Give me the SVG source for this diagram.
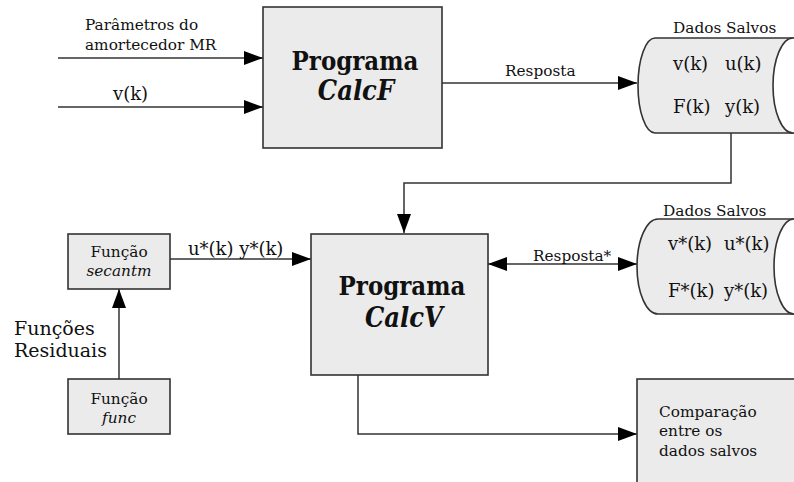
<svg xmlns="http://www.w3.org/2000/svg" width="794" height="482" viewBox="0 0 794 482">
<defs>
<style>
text{font-family:"DejaVu Serif","Liberation Serif",serif;fill:#111}
.box{fill:#ebebeb;stroke:#333;stroke-width:1.6}
.ln{fill:none;stroke:#333;stroke-width:1.5}
.big{font-family:"DejaVu Serif Condensed","DejaVu Serif",serif;font-size:25.5px;font-weight:bold;text-anchor:middle}
.bigi{font-family:"DejaVu Serif Condensed","DejaVu Serif",serif;font-size:27px;font-weight:bold;font-style:italic;text-anchor:middle}
.t14{font-size:15.3px}
.t16{font-size:18px}
.t18{font-size:19px}
.mid{text-anchor:middle}
.it{font-style:italic}
</style>
<marker id="ah" markerUnits="userSpaceOnUse" markerWidth="19" markerHeight="14" refX="19" refY="7" orient="auto-start-reverse" viewBox="0 0 19 14">
<path d="M0,0 L19,7 L0,14 Z" fill="#000"/>
</marker>
</defs>

<g id="connectors">
<line class="ln" x1="58" y1="58" x2="263" y2="58" marker-end="url(#ah)"/>
<line class="ln" x1="58" y1="107" x2="263" y2="107" marker-end="url(#ah)"/>
<line class="ln" x1="442" y1="83" x2="637" y2="83" marker-end="url(#ah)"/>
<polyline class="ln" points="731,133 731,183 404,183 404,233" marker-end="url(#ah)"/>
<line class="ln" x1="488" y1="264" x2="637" y2="264" marker-start="url(#ah)" marker-end="url(#ah)"/>
<line class="ln" x1="170" y1="259" x2="311" y2="259" marker-end="url(#ah)"/>
<line class="ln" x1="119" y1="379" x2="119" y2="289" marker-end="url(#ah)"/>
<polyline class="ln" points="358,375 358,434 637,434" marker-end="url(#ah)"/>
</g>

<g id="labels">
<text class="t14" x="85" y="30">Parâmetros do</text>
<text class="t14" x="85" y="50">amortecedor MR</text>
<text class="t16" x="113" y="100">v(k)</text>
<text class="t14" x="505" y="76">Resposta</text>
<text class="t14" x="533" y="261">Resposta*</text>
<text class="t16" x="188" y="255">u*(k) y*(k)</text>
<text class="t18" x="14" y="335">Funções</text>
<text class="t18" x="14" y="357">Residuais</text>
</g>

<g id="calcF">
<rect class="box" x="263" y="7" width="179" height="141"/>
<text class="big" x="355" y="70">Programa</text>
<text class="bigi" x="356" y="100">CalcF</text>
</g>

<g id="dados1">
<path class="box" d="M655,38 H793 V133 H655 A17,47.5 0 0 1 655,38 Z"/>
<ellipse cx="793" cy="85.5" rx="20" ry="47.5" fill="#fff" stroke="#333" stroke-width="1.6"/>
<text class="t14" x="673" y="33">Dados Salvos</text>
<text class="t16" x="673" y="70">v(k)</text>
<text class="t16" x="725" y="70">u(k)</text>
<text class="t16" x="673" y="113">F(k)</text>
<text class="t16" x="725" y="113">y(k)</text>
</g>

<g id="calcV">
<rect class="box" x="311" y="234" width="177" height="141"/>
<text class="big" x="402" y="295">Programa</text>
<text class="bigi" x="404" y="327">CalcV</text>
</g>

<g id="dados2">
<path class="box" d="M658,219 H794 V314 H658 A21,47.5 0 0 1 658,219 Z"/>
<ellipse cx="794" cy="266.5" rx="20" ry="47.5" fill="#fff" stroke="#333" stroke-width="1.6"/>
<text class="t14" x="663" y="216">Dados Salvos</text>
<text class="t16" x="668" y="250">v*(k)</text>
<text class="t16" x="724" y="250">u*(k)</text>
<text class="t16" x="668" y="297">F*(k)</text>
<text class="t16" x="724" y="297">y*(k)</text>
</g>

<g id="secantm">
<rect class="box" x="68" y="234" width="102" height="55"/>
<text class="t14 mid" x="119" y="257">Função</text>
<text class="t14 mid it" x="119" y="276">secantm</text>
</g>

<g id="func">
<rect class="box" x="68" y="379" width="102" height="55"/>
<text class="t14 mid" x="119" y="404">Função</text>
<text class="t14 mid it" x="119" y="423">func</text>
</g>

<g id="comparacao">
<rect class="box" x="637" y="379" width="170" height="120"/>
<text class="t14" x="659" y="417">Comparação</text>
<text class="t14" x="659" y="436">entre os</text>
<text class="t14" x="659" y="456">dados salvos</text>
</g>
</svg>
